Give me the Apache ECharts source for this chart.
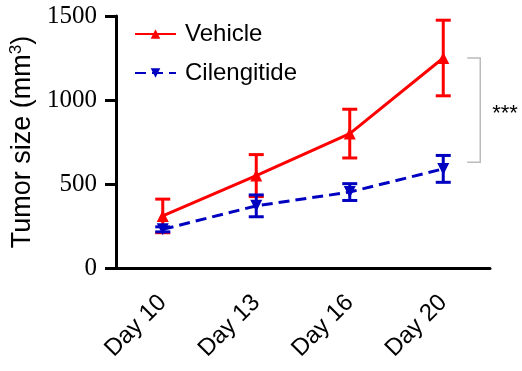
<!DOCTYPE html>
<html><head><meta charset="utf-8">
<script src="https://cdn.jsdelivr.net/npm/echarts@6/dist/echarts.min.js"></script>
<style>html,body{margin:0;padding:0;background:#fff}#c{width:522px;height:371px}</style>
</head><body><div id="c"></div>
<script>
const categories = ['Day 10', 'Day 13', 'Day 16', 'Day 20'];
const vehicleMean = [310, 550, 800, 1250];
const vehicleErr = [100, 125, 145, 225];
const cilenMean = [230, 370, 452, 590];
const cilenErr = [15, 65, 50, 80];
const yTicks = [0, 500, 1000, 1500];
const bracket = [3, 1250, 630];
const sigText = '***';

const RED = '#ff0000', BLUE = '#0000c0';
const chart = echarts.init(document.getElementById('c'), null, {renderer: 'canvas'});

function errSeries(name, mean, err, color) {
  return {
    type: 'custom', name: name + ' err', silent: true, z: 1,
    data: mean.map((m, i) => [i, m - err[i], m + err[i]]),
    renderItem: function (params, api) {
      const x = api.value(0);
      const lo = api.coord([x, api.value(1)]);
      const hi = api.coord([x, api.value(2)]);
      const w = 7.5;
      const st = {stroke: color, lineWidth: 3};
      return {type: 'group', children: [
        {type: 'line', shape: {x1: lo[0], y1: lo[1], x2: hi[0], y2: hi[1]}, style: st},
        {type: 'line', shape: {x1: lo[0] - w, y1: lo[1], x2: lo[0] + w, y2: lo[1]}, style: st},
        {type: 'line', shape: {x1: hi[0] - w, y1: hi[1], x2: hi[0] + w, y2: hi[1]}, style: st}
      ]};
    }
  };
}

chart.setOption({
  animation: false,
  grid: {left: 116, right: 32, top: 16, bottom: 103, containLabel: false, outerBoundsMode: 'none'},
  legend: {
    orient: 'vertical', left: 129, top: 17, itemGap: 15, itemWidth: 41, itemHeight: 12,
    data: ['Vehicle', 'Cilengitide'],
    textStyle: {fontFamily: 'Arial, Liberation Sans', fontSize: 24, color: '#000', padding: [0, 0, 0, 4]}
  },
  xAxis: {
    type: 'category', data: categories, boundaryGap: true,
    axisLine: {lineStyle: {color: '#000', width: 3}},
    axisTick: {alignWithLabel: true, length: 12, lineStyle: {color: '#000', width: 3}},
    axisLabel: {rotate: 45, margin: 31, fontFamily: 'Arial, Liberation Sans', fontSize: 24, color: '#000'}
  },
  yAxis: {
    type: 'value', min: 0, max: 1500, interval: 500,
    name: 'Tumor size (mm{s|3})', nameLocation: 'middle', nameGap: 79,
    nameTextStyle: {fontFamily: 'Arial, Liberation Sans', fontSize: 27, color: '#000',
      rich: {s: {fontSize: 17, verticalAlign: 'top', padding: [0, 0, 12, 0], fontFamily: 'Arial, Liberation Sans'}}},
    splitLine: {show: false},
    axisLine: {show: true, lineStyle: {color: '#000', width: 3}},
    axisTick: {show: true, length: 11, lineStyle: {color: '#000', width: 3}},
    axisLabel: {margin: 19, fontFamily: 'Times New Roman, Liberation Serif', fontSize: 25, color: '#000',
      formatter: v => yTicks.includes(v) ? String(v) : ''}
  },
  series: [
    errSeries('Vehicle', vehicleMean, vehicleErr, RED),
    errSeries('Cilengitide', cilenMean, cilenErr, BLUE),
    {
      type: 'line', name: 'Vehicle', data: vehicleMean, z: 3,
      symbol: 'triangle', symbolSize: 12, showSymbol: true,
      lineStyle: {color: RED, width: 3}, itemStyle: {color: RED}
    },
    {
      type: 'line', name: 'Cilengitide', data: cilenMean, z: 4,
      symbol: 'triangle', symbolRotate: 180, symbolSize: 12, showSymbol: true,
      lineStyle: {color: BLUE, width: 3, type: [11, 6]}, itemStyle: {color: BLUE}
    },
    {
      type: 'custom', name: 'sig', silent: true, clip: false, z: 5,
      data: [bracket],
      renderItem: function (params, api) {
        const top = api.coord([api.value(0), api.value(1)]);
        const bot = api.coord([api.value(0), api.value(2)]);
        const x0 = top[0] + 24, x1 = top[0] + 37;
        return {type: 'group', children: [
          {type: 'polyline', shape: {points: [[x0, top[1]], [x1, top[1]], [x1, bot[1]], [x0, bot[1]]]},
            style: {stroke: '#bbbbbb', lineWidth: 1.5, fill: null}},
          {type: 'text', x: x1 + 12, y: (top[1] + bot[1]) / 2 + 4,
            style: {text: sigText, fontFamily: 'Arial, Liberation Sans', fontSize: 22, fill: '#000',
              align: 'left', verticalAlign: 'middle'}}
        ]};
      }
    }
  ]
});
</script></body></html>
